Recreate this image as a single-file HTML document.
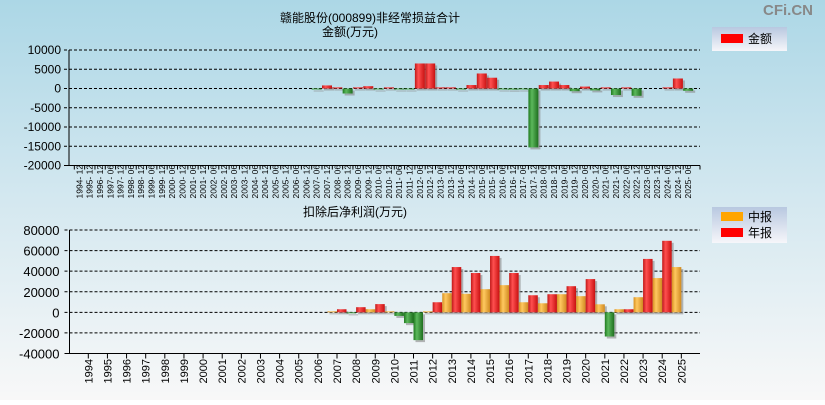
<!DOCTYPE html>
<html><head><meta charset="utf-8"><style>
body{margin:0;width:825px;height:400px;overflow:hidden;font-family:"Liberation Sans","Noto Sans CJK SC",sans-serif;}
svg text{font-family:"Liberation Sans","Noto Sans CJK SC",sans-serif;}
</style></head><body>
<svg id="c" width="825" height="400" xmlns="http://www.w3.org/2000/svg">
<defs>
<linearGradient id="bg" x1="0" y1="0" x2="0" y2="1"><stop offset="0" stop-color="#acd7e6"/><stop offset="0.5" stop-color="#d4e8f0"/><stop offset="1" stop-color="#f8f8f8"/></linearGradient>
<linearGradient id="gr" x1="0" y1="0" x2="1" y2="0"><stop offset="0" stop-color="#c01818"/><stop offset="0.35" stop-color="#ff5050"/><stop offset="1" stop-color="#c81010"/></linearGradient>
<linearGradient id="gg" x1="0" y1="0" x2="1" y2="0"><stop offset="0" stop-color="#1f7a1f"/><stop offset="0.35" stop-color="#5cb85c"/><stop offset="1" stop-color="#1e6e1e"/></linearGradient>
<linearGradient id="go" x1="0" y1="0" x2="1" y2="0"><stop offset="0" stop-color="#d89020"/><stop offset="0.35" stop-color="#ffc860"/><stop offset="1" stop-color="#d08a20"/></linearGradient>
<linearGradient id="lg" x1="0" y1="0" x2="0" y2="1"><stop offset="0" stop-color="#b8c8e0"/><stop offset="1" stop-color="#f6f6fa"/></linearGradient>
</defs>
<rect width="825" height="400" fill="url(#bg)"/>
<text x="788" y="15" font-size="15" font-weight="bold" fill="#888" text-anchor="middle">CFi.CN</text>
<text x="370" y="22" font-size="12" text-anchor="middle">赣能股份(000899)非经常损益合计</text>
<text x="350" y="36" font-size="12" text-anchor="middle">金额(万元)</text>
<text x="355" y="216" font-size="12" text-anchor="middle">扣除后净利润(万元)</text>
<g>
<rect x="712" y="27" width="75" height="24" fill="url(#lg)"/>
<rect x="721" y="34" width="22" height="9" fill="#f00"/>
<text x="748" y="43" font-size="12">金额</text>
</g>
<g>
<rect x="712" y="207" width="75" height="36" fill="url(#lg)"/>
<rect x="721" y="212" width="22" height="9" fill="#ffa500"/>
<text x="748" y="221" font-size="12">中报</text>
<rect x="721" y="228" width="22" height="9" fill="#f00"/>
<text x="748" y="237" font-size="12">年报</text>
</g>
<g id="top"></g><g id="bot"></g>
</svg>
<script>
const topCats=["1994-12","1995-12","1996-12","1997-06","1997-12","1998-06","1998-12","1999-06","1999-12","2000-06","2000-12","2001-06","2001-12","2002-06","2002-12","2003-06","2003-12","2004-06","2004-12","2005-06","2005-12","2006-06","2006-12","2007-06","2007-12","2008-06","2008-12","2009-06","2009-12","2010-06","2010-12","2011-06","2011-12","2012-06","2012-12","2013-06","2013-12","2014-06","2014-12","2015-06","2015-12","2016-06","2016-12","2017-06","2017-12","2018-06","2018-12","2019-06","2019-12","2020-06","2020-12","2021-06","2021-12","2022-06","2022-12","2023-06","2023-12","2024-06","2024-12","2025-06"];
const topVals=[null,null,null,null,null,null,null,null,null,null,null,null,null,null,null,null,null,null,null,null,null,null,null,-100,800,300,-1300,300,600,-200,300,-200,-200,6500,6500,300,300,-100,900,3900,2800,-100,-300,-200,-15300,900,1800,900,-700,500,-500,300,-1700,300,-1900,null,null,300,2600,-600];
const topTicks=[10000,5000,0,-5000,-10000,-15000,-20000];
const botCats=["1994","1995","1996","1997","1998","1999","2000","2001","2002","2003","2004","2005","2006","2007","2008","2009","2010","2011","2012","2013","2014","2015","2016","2017","2018","2019","2020","2021","2022","2023","2024","2025"];
const midVals=[null,null,null,null,null,null,null,null,null,null,null,null,null,1000,-500,3000,1000,-10500,1000,18600,18000,22500,26400,9800,8800,17600,15700,7800,3000,14700,33300,44000];
const annVals=[null,null,null,null,null,null,null,null,null,null,null,null,null,3000,5000,8000,-3500,-27000,9800,44000,38200,54800,38200,16600,17600,25400,32300,-23500,3000,51900,69500,null];
const botTicks=[80000,60000,40000,20000,0,-20000,-40000];
const NS="http://www.w3.org/2000/svg";
function mk(p,t,a){const e=document.createElementNS(NS,t);for(const k in a)e.setAttribute(k,a[k]);p.appendChild(e);return e;}
function bar(g,x,w,y0,y1,v,pos){const top=Math.min(y0,y1),h=Math.max(Math.abs(y1-y0),1);
 mk(g,'rect',{x:x+2,y:top+2,width:w,height:h,fill:'#888','opacity':0.6});
 const r=mk(g,'rect',{x:x,y:top,width:w,height:h,fill:v<0?'url(#gg)':pos});
 return r;}
// top chart
(function(){
 const g=document.getElementById('top');
 const X0=69,X1=700,Ymax=10000,Ymin=-20000,yT=50,yB=165.5;
 const ys=v=>yT+(Ymax-v)/(Ymax-Ymin)*(yB-yT);
 const step=10.32,xs=i=>X0+(i+1.0)*step;
 topTicks.forEach(t=>{
  const l=mk(g,'line',{x1:X0-5,x2:X1,y1:ys(t),y2:ys(t),stroke:'#000','stroke-dasharray':t===Ymin?'':'3,2'});
  
  const tx=mk(g,'text',{x:X0-8,y:ys(t)+4,'font-size':12,'text-anchor':'end'});tx.textContent=t;
  
 });
 mk(g,'line',{x1:X0,x2:X0,y1:yT,y2:yB,stroke:'#000'});
 mk(g,'line',{x1:X0,x2:X1,y1:yB,y2:yB,stroke:'#000'});
 topCats.forEach((c,i)=>{
  const x=xs(i);
  mk(g,'line',{x1:x-5,x2:x-5,y1:yB,y2:yB+4,stroke:'#000'});
  const tx=mk(g,'text',{x:0,y:0,'font-size':8.5,transform:`translate(${x+3},${yB+33}) rotate(-90)`});tx.textContent=c.replace('-','- ');
  
  const v=topVals[i];if(v===null)return;
  const r=bar(g,x-5,10,ys(0),ys(v),v,'url(#gr)');
  
 });
 mk(g,'line',{x1:X1,x2:X1,y1:yB,y2:yB+4,stroke:'#000'});
})();
// bottom chart
(function(){
 const g=document.getElementById('bot');
 const X0=69.5,X1=700,Ymax=80000,Ymin=-40000,yT=230,yB=353.5;
 const ys=v=>yT+(Ymax-v)/(Ymax-Ymin)*(yB-yT);
 const xs=i=>88.3+i*19.13;
 botTicks.forEach(t=>{
  const l=mk(g,'line',{x1:X0-5,x2:X1,y1:ys(t),y2:ys(t),stroke:'#000','stroke-dasharray':t===Ymin?'':'3,2'});
  
  const tx=mk(g,'text',{x:X0-10,y:ys(t)+5,'font-size':13,'text-anchor':'end'});tx.textContent=t;
  
 });
 mk(g,'line',{x1:X0,x2:X0,y1:yT,y2:yB,stroke:'#000'});
 mk(g,'line',{x1:X0,x2:X1,y1:yB,y2:yB,stroke:'#000'});
 botCats.forEach((c,i)=>{
  const x=xs(i);
  mk(g,'line',{x1:x,x2:x,y1:yB,y2:yB+5,stroke:'#000'});
  const tx=mk(g,'text',{x:0,y:0,'font-size':11,transform:`translate(${x+4},${yB+30}) rotate(-90)`});tx.textContent=c;
  
  const m=midVals[i],a=annVals[i];
  if(m!==null){const r=bar(g,x-9.5,9.5,ys(0),ys(m),m,'url(#go)');
   }
  if(a!==null){const r=bar(g,x,9.5,ys(0),ys(a),a,'url(#gr)');
   }
 });
})();
</script>
</body></html>
